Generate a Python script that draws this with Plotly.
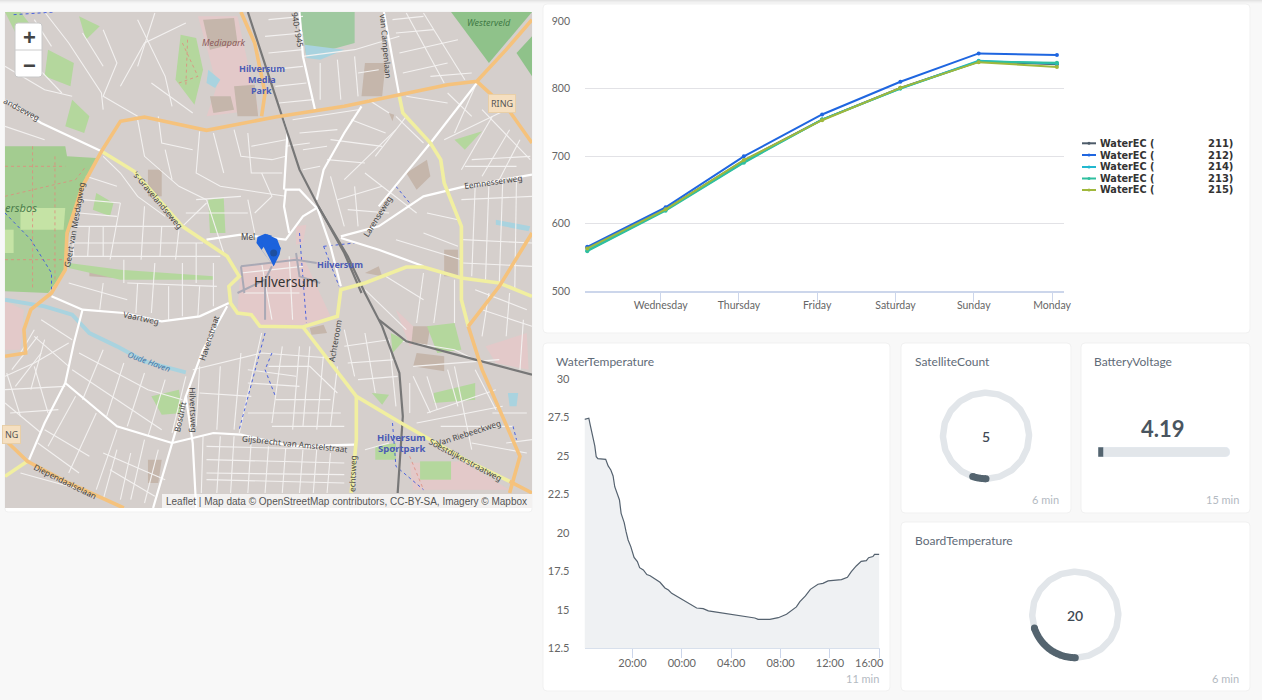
import numpy as np
import pandas as pd
import plotly.graph_objects as go

W, H = 1262, 700

# ---------- line chart data ----------
days = ["2020-06-02 01:30", "2020-06-03 01:30", "2020-06-04 01:30", "2020-06-05 01:30",
        "2020-06-06 01:30", "2020-06-07 01:30", "2020-06-08 01:30"]
ec_211 = [564, 621, 693, 754, 801, 840, 836]
ec_212 = [565.5, 624, 699.5, 761.5, 810, 852, 849.5]
ec_214 = [560, 620, 691, 754, 800, 841, 837]
ec_213 = [559, 619, 690, 754, 800, 840, 838]
ec_215 = [563, 621, 694, 753, 801, 839, 832]
week_ticks = ["2020-06-03", "2020-06-04", "2020-06-05", "2020-06-06", "2020-06-07", "2020-06-08"]
week_labels = ["Wednesday", "Thursday", "Friday", "Saturday", "Sunday", "Monday"]
ec_ids = ["211", "212", "214", "213", "215"]
ec_colors = ["#4d5b69", "#1f66e0", "#22b8cf", "#2fbf9f", "#a0b83c"]

# ---------- water temperature data ----------
temp_times = ["16:07", "16:28", "16:35", "16:47", "16:57", "17:04", "17:12", "17:50", "18:02", "18:15", "18:26",
              "18:34", "18:49", "18:57", "19:05", "19:20", "19:29", "19:39", "19:52", "20:08", "20:24", "20:35",
              "20:53", "21:10", "21:26", "21:50", "22:14", "22:38", "22:55", "23:11", "23:35", "00:07", "00:40",
              "01:12", "01:44", "02:09", "02:33", "03:13", "03:54", "04:43", "05:23", "05:55", "06:11", "07:08",
              "07:49", "08:29", "09:17", "09:34", "10:01", "10:25", "11:02", "11:26", "11:51", "12:23", "12:56",
              "13:25", "13:44", "14:08", "14:32", "14:57", "15:08", "15:29", "15:37", "16:00"]
temp_values = [27.38, 27.45, 27.01, 26.25, 25.65, 24.95, 24.82, 24.78, 24.35, 24.09, 23.7,
               23.0, 22.46, 22.14, 21.27, 20.67, 20.08, 19.54, 19.11, 18.41, 18.13, 17.74,
               17.59, 17.29, 17.22, 17.03, 16.79, 16.42, 16.29, 16.07, 15.88, 15.6, 15.32,
               15.12, 15.08, 14.93, 14.88, 14.8, 14.67, 14.62, 14.51, 14.47, 14.38, 14.38,
               14.49, 14.71, 15.19, 15.53, 15.9, 16.33, 16.66, 16.72, 16.88, 16.94, 16.96,
               17.11, 17.48, 17.85, 18.15, 18.2, 18.39, 18.46, 18.61, 18.61]
temp_ticks = ["2020-06-07 20:00", "2020-06-08 00:00", "2020-06-08 04:00", "2020-06-08 08:00",
              "2020-06-08 12:00", "2020-06-08 16:00"]
temp_tick_labels = ["20:00", "00:00", "04:00", "08:00", "12:00", ""]
last_temp_label = "16:00"

# ---------- gauges ----------
satellite_count = 5
board_temperature = 20
battery_voltage = 4.19

# ---------- map features, in map units ----------
forest = [(15, 440), (190, 440), (195, 470), (280, 475), (240, 570), (195, 720), (190, 810), (140, 880), (15, 875)]
forest_light = [[(60, 625), (190, 625), (185, 690), (60, 690)], [(15, 690), (40, 690), (40, 760), (15, 760)]]
westerveld = [(1310, 37), (1545, 37), (1420, 190)]
west_right = [(1545, 110), (1500, 160), (1545, 230)]
sportfield = [(870, 37), (1030, 37), (1030, 130), (890, 170)]
greens = [
    [(525, 105), (570, 115), (590, 210), (565, 315), (510, 240)],
    [(15, 37), (60, 37), (100, 90), (60, 130)],
    [(140, 150), (215, 190), (205, 260), (130, 230)],
    [(230, 50), (290, 80), (250, 120)],
    [(210, 300), (260, 350), (245, 400), (190, 380)],
    [(280, 580), (330, 610), (320, 650), (270, 630)],
    [(605, 600), (650, 595), (655, 700), (610, 700)],
    [(440, 1190), (520, 1170), (530, 1240), (470, 1245)],
    [(1240, 980), (1320, 970), (1340, 1050), (1270, 1060)],
    [(1320, 420), (1400, 395), (1350, 450)],
    [(1260, 1180), (1380, 1150), (1380, 1200), (1260, 1210)],
    [(200, 790), (350, 810), (620, 830), (620, 840), (350, 840), (200, 805)],
    [(1090, 1340), (1150, 1330), (1150, 1380), (1090, 1380)],
    [(1220, 1385), (1310, 1385), (1310, 1440), (1220, 1440)],
    [(1135, 1000), (1175, 1020), (1140, 1060)],
    [(1080, 1180), (1130, 1185), (1110, 1215)],
]
pink = [[(700, 800), (880, 770), (960, 950), (880, 975), (760, 975), (690, 930)],
        [(860, 680), (890, 675), (880, 730), (860, 735)],
        [(575, 50), (690, 50), (750, 330), (600, 350), (630, 260), (600, 140)],
        [(1150, 930), (1200, 980), (1250, 1000), (1190, 1040)],
        [(1410, 1040), (1530, 1000), (1535, 1110), (1440, 1090)],
        [(15, 905), (70, 930), (60, 1050), (15, 1050)],
        [(1190, 1390), (1340, 1385), (1480, 1470), (1200, 1470)]]
buildings = [[(590, 60), (680, 55), (690, 130), (610, 150)],
             [(610, 290), (670, 290), (680, 330), (620, 340)],
             [(680, 260), (740, 255), (750, 350), (690, 350)],
             [(1060, 190), (1120, 190), (1110, 290), (1050, 290)],
             [(1180, 520), (1240, 480), (1250, 530), (1210, 570)],
             [(1290, 750), (1330, 750), (1330, 830), (1290, 830)],
             [(1200, 980), (1250, 980), (1240, 1040), (1195, 1030)],
             [(430, 510), (470, 510), (470, 590), (430, 590)],
             [(900, 985), (940, 975), (950, 1000), (905, 1005)],
             [(260, 810), (340, 815), (340, 835), (260, 830)],
             [(1210, 1060), (1290, 1070), (1290, 1115), (1200, 1100)],
             [(1060, 820), (1100, 800), (1110, 830)],
             [(1130, 340), (1145, 345), (1140, 365)],
             [(430, 1380), (470, 1380), (460, 1450), (430, 1450)]]
water = [(15, 900), (130, 920), (210, 945), (260, 1000), (340, 1040), (420, 1085), (540, 1118)]
ponds = [[(605, 210), (640, 240), (625, 265), (600, 250)], [(1440, 660), (1540, 680), (1535, 695), (1440, 675)],
         [(1475, 1180), (1505, 1180), (1500, 1220), (1480, 1220)], [(885, 135), (1000, 150), (930, 180), (890, 175)]]
orange_roads = [
    [(15, 1070), (75, 1060), (70, 990), (90, 930), (150, 880), (190, 810), (195, 700), (240, 560), (295, 455), (350, 365), (420, 352), (600, 392), (800, 352), (1000, 320), (1300, 255), (1385, 245), (1470, 150), (1545, 60)],
    [(1385, 245), (1480, 335), (1545, 430)],
    [(1360, 980), (1450, 860), (1545, 700)],
    [(1360, 980), (1400, 1110), (1510, 1370), (1480, 1480)],
    [(760, 350), (770, 280), (740, 130), (700, 37)],
    [(15, 1320), (80, 1385), (200, 1450), (360, 1525)],
    [(1480, 1445), (1545, 1480)],
]
yellow_roads = [
    [(295, 455), (390, 515), (530, 680), (660, 770), (695, 830), (665, 860), (670, 910), (690, 940), (730, 945), (755, 980), (880, 982), (980, 950), (990, 870), (1060, 850), (1180, 802), (1230, 802), (1340, 835), (1450, 850), (1545, 890)],
    [(1160, 290), (1170, 340), (1250, 430), (1280, 480), (1290, 550), (1340, 680), (1340, 900), (1360, 980)],
    [(880, 982), (1035, 1190), (1165, 1270), (1350, 1380), (1480, 1445)],
    [(1035, 1190), (1035, 1320), (1020, 1480)],
    [(15, 1430), (80, 1385)],
]
rail_roads = [
    [(720, 37), (820, 350), (870, 510), (930, 630), (1010, 770), (1060, 880), (1110, 980), (1160, 1120), (1170, 1250), (1155, 1480)],
    [(1100, 960), (1180, 1025), (1380, 1080), (1545, 1125)],
    [(925, 620), (1000, 760), (1050, 880)],
]
main_streets = [
    [(15, 300), (120, 370), (295, 455)],
    [(150, 890), (240, 930), (360, 940), (470, 965), (580, 950), (665, 910)],
    [(240, 930), (215, 1030), (190, 1150), (130, 1270), (85, 1380)],
    [(660, 920), (590, 1050), (540, 1190), (500, 1330), (445, 1525)],
    [(500, 1330), (620, 1300), (700, 1305), (850, 1340), (1030, 1335)],
    [(600, 720), (700, 705), (830, 720), (880, 650), (920, 625), (870, 570), (830, 570), (825, 620), (840, 700)],
    [(825, 570), (835, 400), (820, 350)],
    [(920, 620), (960, 740), (990, 860)],
    [(990, 710), (1100, 680), (1230, 590), (1350, 560), (1545, 525)],
    [(920, 600), (940, 510), (1000, 400), (1050, 320)],
    [(1100, 620), (1250, 430), (1385, 250)],
    [(870, 37), (880, 170), (915, 330)],
    [(1115, 37), (1160, 290)],
    [(190, 1150), (340, 1280), (500, 1330)],
    [(540, 1190), (560, 1330), (570, 1525)],
    [(990, 715), (1100, 750), (1230, 800)],
]
minor_streets = [
    [(880, 170), (1030, 150), (1160, 110)], [(15, 1130), (100, 1090), (200, 1030)], [(760, 1000), (700, 1280), (695, 1300)],
    [(1170, 1025), (1320, 1050), (1400, 1090)], [(300, 90), (340, 190), (300, 290), (400, 350)],
    [(130, 37), (200, 130), (295, 280), (300, 330)], [(560, 1110), (760, 1060), (960, 1075)],
    [(400, 360), (420, 470), (520, 560), (600, 600)], [(580, 395), (570, 520), (640, 560), (830, 590)],
    [(680, 390), (700, 470), (790, 480), (830, 470)], [(300, 470), (350, 520), (400, 590), (480, 650)],
    [(210, 680), (530, 680)], [(200, 730), (590, 730)], [(200, 770), (640, 770)], [(350, 610), (320, 780)],
    [(420, 620), (410, 780)], [(520, 690), (510, 780)], [(600, 610), (530, 680)], [(650, 760), (600, 600)],
    [(370, 850), (630, 860)], [(450, 790), (440, 940)], [(530, 790), (530, 950)], [(620, 790), (620, 920)],
    [(300, 850), (290, 930)], [(720, 600), (740, 700)], [(760, 520), (790, 590), (740, 640)],
    [(960, 420), (1110, 440)], [(950, 480), (1060, 490)], [(1000, 540), (1150, 390)], [(1150, 350), (1230, 430)],
    [(1060, 520), (1210, 640)], [(1240, 640), (1330, 660)], [(1230, 700), (1330, 740)], [(1150, 720), (1340, 780)],
    [(1380, 560), (1370, 830)], [(1420, 550), (1410, 840)], [(1460, 545), (1450, 850)], [(1500, 535), (1495, 870)],
    [(1340, 600), (1545, 590)], [(1345, 720), (1545, 730)], [(1345, 790), (1545, 800)], [(1370, 480), (1540, 470)],
    [(1290, 420), (1470, 330)], [(1400, 330), (1540, 480)], [(1180, 40), (1290, 250)], [(1230, 40), (1350, 240)],
    [(1160, 160), (1330, 120)], [(1170, 220), (1300, 190)], [(930, 190), (930, 300)], [(980, 180), (990, 300)],
    [(1030, 170), (1040, 290)], [(15, 1170), (190, 1160)], [(30, 1240), (170, 1230)], [(100, 990), (60, 1060)],
    [(120, 960), (210, 1020)], [(100, 1100), (140, 1240)], [(220, 1190), (140, 1340)], [(280, 1240), (200, 1420)],
    [(340, 1290), (280, 1470)], [(420, 1320), (380, 1500)], [(230, 1060), (430, 1170), (530, 1200)],
    [(210, 1110), (470, 1290)], [(580, 1100), (570, 1280)], [(640, 1100), (630, 1290)], [(700, 1060), (680, 1290)],
    [(580, 1180), (730, 1190)], [(780, 1100), (900, 1100), (980, 1180)], [(800, 1200), (960, 1200)],
    [(790, 1280), (1000, 1280)], [(870, 1040), (850, 1290)], [(940, 1060), (920, 1290)],
    [(600, 1380), (1000, 1390)], [(600, 1440), (1000, 1450)], [(680, 1310), (670, 1480)], [(780, 1340), (770, 1480)],
    [(880, 1350), (870, 1480)], [(960, 1360), (950, 1480)], [(1000, 990), (1030, 1130)], [(1060, 1000), (1090, 1180)],
    [(1130, 1020), (1150, 1220)], [(1200, 1100), (1450, 1080)], [(1240, 1240), (1440, 1170)], [(1200, 1130), (1250, 1240)],
    [(1320, 1100), (1370, 1350)], [(1430, 1240), (1530, 1240)], [(1470, 1330), (1545, 1320)], [(1060, 1350), (1130, 1330)],
    [(15, 1210), (120, 1300)], [(20, 1120), (60, 1250)], [(60, 1420), (270, 1480)], [(300, 1360), (480, 1440)],
    [(320, 1410), (450, 1490)], [(540, 70), (420, 130), (350, 260)], [(240, 100), (300, 200)], [(400, 60), (480, 230), (500, 320)],
    [(450, 40), (400, 200)], [(900, 430), (830, 440)], [(700, 820), (880, 800)], [(760, 790), (790, 960)],
    [(840, 770), (850, 960)], [(710, 880), (870, 880)],
    # denser residential fill
    [(15, 200), (130, 270), (210, 290)], [(60, 150), (180, 280)], [(100, 60), (150, 140)], [(15, 380), (130, 420)],
    [(440, 250), (560, 340)], [(460, 350), (470, 430), (560, 450)], [(480, 450), (500, 540)], [(620, 400), (650, 520)],
    [(720, 400), (730, 520), (820, 520)], [(730, 440), (830, 420)], [(570, 600), (700, 590)], [(540, 640), (720, 640)],
    [(240, 600), (350, 610)], [(230, 640), (340, 650)], [(250, 530), (340, 560)], [(210, 700), (215, 770)],
    [(260, 680), (255, 770)], [(300, 680), (300, 770)], [(470, 680), (465, 770)], [(570, 730), (570, 850)],
    [(360, 780), (360, 850)], [(400, 850), (395, 940)], [(490, 860), (490, 960)], [(580, 860), (575, 950)],
    [(200, 850), (370, 900)], [(100, 1010), (200, 1100)], [(35, 1110), (110, 1010)], [(45, 1160), (120, 1060)],
    [(130, 1020), (90, 1170)], [(300, 1050), (240, 1200)], [(360, 1090), (310, 1250)], [(420, 1120), (370, 1280)],
    [(480, 1140), (430, 1310)], [(540, 1130), (500, 1300)], [(130, 1290), (260, 1370)], [(110, 1330), (230, 1420)],
    [(340, 1350), (300, 1500)], [(380, 1360), (350, 1500)], [(460, 1350), (420, 1510)], [(590, 1310), (585, 1480)],
    [(640, 1310), (630, 1480)], [(730, 1320), (720, 1480)], [(830, 1345), (820, 1480)], [(920, 1350), (910, 1480)],
    [(600, 1340), (1000, 1350)], [(600, 1420), (1000, 1425)], [(720, 1110), (860, 1130)], [(720, 1150), (870, 1160)],
    [(720, 1240), (990, 1240)], [(820, 1040), (790, 1270)], [(900, 1040), (880, 1280)], [(980, 1100), (960, 1280)],
    [(1000, 1040), (1130, 1020)], [(1010, 1090), (1150, 1080)], [(1040, 1140), (1155, 1130)], [(1190, 1150), (1190, 1240)],
    [(1240, 1130), (1270, 1230)], [(1300, 1110), (1330, 1220)], [(1380, 1110), (1440, 1230)], [(1210, 1270), (1460, 1220)],
    [(1280, 1280), (1490, 1280)], [(1370, 1330), (1530, 1360)], [(1420, 880), (1400, 1010)], [(1380, 870), (1530, 930)],
    [(1400, 930), (1545, 980)], [(1520, 960), (1510, 1110)], [(1480, 880), (1470, 1010)], [(1230, 820), (1210, 970)],
    [(1280, 820), (1260, 970)], [(1320, 840), (1320, 970)], [(1060, 870), (1180, 990)], [(1120, 830), (1230, 900)],
    [(1010, 630), (1130, 640)], [(980, 600), (1110, 560)], [(1030, 560), (1040, 680)], [(960, 530), (1000, 680)],
    [(1070, 300), (1130, 340)], [(1020, 360), (1120, 400)], [(1180, 350), (1090, 470)], [(1250, 230), (1370, 220)],
    [(1180, 290), (1300, 310)], [(1300, 280), (1370, 350)], [(1380, 260), (1320, 400)], [(1430, 350), (1340, 510)],
    [(1480, 390), (1400, 530)], [(1510, 420), (1450, 540)], [(1350, 500), (1500, 500)], [(1140, 60), (1230, 50)],
    [(1150, 100), (1260, 90)], [(1040, 220), (1100, 210)], [(780, 60), (880, 50)], [(770, 110), (880, 100)],
    [(780, 160), (880, 150)], [(790, 210), (880, 200)], [(800, 260), (890, 250)], [(810, 310), (910, 300)],
    [(850, 360), (1040, 330)], [(870, 400), (980, 390)], [(880, 450), (950, 440)], [(880, 510), (930, 500)],
]
ped_streets = [[(700, 800), (860, 780), (920, 790)], [(690, 880), (770, 840), (770, 960)], [(790, 800), (770, 840)],
               [(700, 800), (710, 880)], [(860, 760), (870, 830), (930, 850)]]
red_paths = [[(530, 130), (575, 230), (520, 250)], [(545, 120), (540, 260)], [(15, 500), (190, 500)], [(15, 590), (220, 540), (250, 500)],
             [(95, 440), (95, 870)], [(15, 780), (190, 780)], [(160, 470), (160, 840)], [(1190, 1370), (1230, 1470)]]
blue_paths = [[(15, 640), (90, 720), (150, 820), (150, 880)], [(40, 45), (160, 37)], [(870, 700), (890, 970)], [(940, 740), (1030, 730)],
              [(940, 740), (985, 860)], [(1150, 560), (1190, 610)], [(790, 1060), (770, 1110), (800, 1190)],
              [(770, 1000), (695, 1290)], [(1140, 1270), (1150, 1400), (1230, 1470)], [(1490, 1280), (1500, 1320)]]
pin_shapes = [[(795, 800), (745, 730), (748, 712), (770, 702), (790, 708), (760, 750)],
              [(795, 800), (760, 730), (775, 704), (805, 718), (815, 745)],
              [(795, 800), (775, 745), (795, 730), (816, 745), (812, 765)]]
pin_dot = [(795, 760)]
map_labels = [
    ("Mediapark", 650, 128, 0, 9, "#8c5a5a", "italic", "normal"),
    ("Hilversum", 760, 208, 0, 9, "#4b5bb5", "normal", "bold"),
    ("Media", 760, 240, 0, 9, "#4b5bb5", "normal", "bold"),
    ("Park", 760, 272, 0, 9, "#4b5bb5", "normal", "bold"),
    ("Westerveld", 1420, 68, 0, 9, "#3f7a45", "italic", "normal"),
    ("ersbos", 62, 622, 0, 11, "#4c7d4c", "italic", "normal"),
    ("andseweg", 62, 328, 28, 8.2, "#444444", "normal", "normal"),
    ("'s-Gravelandseweg", 458, 600, 50, 8.2, "#444444", "normal", "normal"),
    ("Geert van Mesdagweg", 216, 675, -80, 8.2, "#444444", "normal", "normal"),
    ("Eemnesserweg", 1432, 546, -8, 8.2, "#444444", "normal", "normal"),
    ("Larenseweg", 1095, 650, -58, 8.2, "#444444", "normal", "normal"),
    ("Hilversum", 832, 846, 0, 13.5, "#333333", "normal", "normal"),
    ("Mel", 720, 710, 0, 8.2, "#444444", "normal", "normal"),
    ("Hilversum", 988, 794, 0, 9, "#4b5bb5", "normal", "bold"),
    ("Vaartweg", 410, 953, 12, 8.2, "#444444", "normal", "normal"),
    ("Havenstraat", 605, 1015, -72, 8.2, "#444444", "normal", "normal"),
    ("Oude Haven", 435, 1085, 20, 8.2, "#4a78a8", "italic", "normal"),
    ("Achteroom", 972, 1022, -80, 8.2, "#444444", "normal", "normal"),
    ("Bosdrift", 522, 1250, -78, 8.2, "#444444", "normal", "normal"),
    ("Hilvertsweg", 562, 1230, 88, 8.2, "#444444", "normal", "normal"),
    ("Gijsbrecht van Amstelstraat", 858, 1330, 6, 8.2, "#444444", "normal", "normal"),
    ("Van Riebeeckweg", 1362, 1298, -18, 8.2, "#444444", "normal", "normal"),
    ("Soestdijkerstraatweg", 1352, 1380, 28, 8.2, "#444444", "normal", "normal"),
    ("Hilversum", 1165, 1313, 0, 9.5, "#4b5bb5", "normal", "bold"),
    ("Sportpark", 1165, 1345, 0, 9.5, "#4b5bb5", "normal", "bold"),
    ("echtsweg", 1022, 1420, -88, 8.2, "#444444", "normal", "normal"),
    ("Diependaalselaan", 192, 1445, 26, 8.2, "#444444", "normal", "normal"),
    ("940-1945", 865, 90, 80, 8.2, "#444444", "normal", "normal"),
    ("van Campenlaan", 1122, 140, 85, 8.2, "#444444", "normal", "normal"),
]
ring_labels = [("RING", 1458, 313), ("NG", 33, 1303)]


def xd(a, b):
    return [a / W, b / W]


def yd(a, b):
    return [1 - b / H, 1 - a / H]


def px(x):
    return x / W


def py(y):
    return 1 - y / H


def rrect(x0, y0, x1, y1, r, fill, line="rgba(0,0,0,0)", layer="below"):
    p = (f"M{px(x0 + r)},{py(y0)} L{px(x1 - r)},{py(y0)} Q{px(x1)},{py(y0)} {px(x1)},{py(y0 + r)} "
         f"L{px(x1)},{py(y1 - r)} Q{px(x1)},{py(y1)} {px(x1 - r)},{py(y1)} L{px(x0 + r)},{py(y1)} "
         f"Q{px(x0)},{py(y1)} {px(x0)},{py(y1 - r)} L{px(x0)},{py(y0 + r)} Q{px(x0)},{py(y0)} {px(x0 + r)},{py(y0)} Z")
    return dict(type="path", xref="paper", yref="paper", path=p, fillcolor=fill,
                line=dict(color=line, width=1), layer=layer)


def rect(x0, y0, x1, y1, fill, layer="below"):
    return dict(type="rect", xref="paper", yref="paper", x0=px(x0), x1=px(x1), y0=py(y1), y1=py(y0),
                fillcolor=fill, line=dict(width=0), layer=layer)


def text(s, x, y, size, color, anchor="left", family="Lato", weight="normal"):
    shift = {"left": -2, "right": 2, "center": 0}[anchor]
    return dict(text=s, xref="paper", yref="paper", x=px(x), y=py(y), xanchor=anchor, yanchor="middle", xshift=shift,
                showarrow=False, font=dict(size=size, color=color, family=family, weight=weight))


fig = go.Figure()
shapes = []
annos = []

# page and cards
shapes += [rect(0, 0, W, 1, "#e4e4e4"), rect(0, 1, W, 2, "#ececec"), rect(0, 2, W, 3, "#f2f2f2"), rect(0, 3, W, 4, "#f6f6f6")]
card_line = "#f1f1f1"
shapes += [rrect(5, 12, 532, 512, 3, "#ffffff", card_line),
           rrect(543, 4, 1250, 333, 4, "#ffffff", card_line),
           rrect(543, 343, 890, 691, 4, "#ffffff", card_line),
           rrect(901, 343, 1071, 513, 4, "#ffffff", card_line),
           rrect(1081, 343, 1250, 513, 4, "#ffffff", card_line),
           rrect(901, 522, 1250, 691, 4, "#ffffff", card_line)]
shapes.append(rect(5, 12, 532, 508, "#d5cfcc"))


# ---------- map ----------
def add_poly(pts, color, opacity=1.0):
    fig.add_trace(go.Scatter(x=[p[0] for p in pts] + [pts[0][0]], y=[p[1] for p in pts] + [pts[0][1]],
                             mode="lines", fill="toself", fillcolor=color, line=dict(width=0), opacity=opacity,
                             hoverinfo="skip", showlegend=False, xaxis="x3", yaxis="y3"))


def add_lines(lines, color, width, dash="solid"):
    xs, ys = [], []
    for ln in lines:
        xs += [p[0] for p in ln] + [None]
        ys += [p[1] for p in ln] + [None]
    fig.add_trace(go.Scatter(x=xs, y=ys, mode="lines", line=dict(color=color, width=width, dash=dash),
                             hoverinfo="skip", showlegend=False, xaxis="x3", yaxis="y3"))


for poly in pink:
    add_poly(poly, "#e3c9c9")
for poly in buildings:
    add_poly(poly, "#c5b6ab")
for poly in greens:
    add_poly(poly, "#b4d79d")
add_poly(forest, "#a3cc90")
for poly in forest_light:
    add_poly(poly, "#c5e3a5")
add_poly(westerveld, "#8fc28a")
add_poly(west_right, "#8fc28a")
add_poly(sportfield, "#9fc9a0")
for poly in ponds:
    add_poly(poly, "#a9d3df")
add_lines([water], "#a9d3df", 4)
add_lines(minor_streets, "#f3f1f0", 1.1)
add_lines(red_paths, "#e08a7c", 0.8, "dot")
add_lines(blue_paths, "#3a55e0", 0.9, "dot")
add_lines(ped_streets, "#a9a9b5", 2)
add_lines(main_streets, "#ffffff", 2.2)
add_lines(rail_roads, "#777777", 2.2)
add_lines(yellow_roads, "#f1efa0", 3.6)
add_lines(orange_roads, "#f5c27c", 3.6)
for poly in pin_shapes:
    add_poly(poly, "#1c62dc")
fig.add_trace(go.Scatter(x=[p[0] for p in pin_dot], y=[p[1] for p in pin_dot], mode="markers",
                         marker=dict(size=7, color="#1e4f9e"), hoverinfo="skip", showlegend=False,
                         xaxis="x3", yaxis="y3"))
for s, x, y, ang, size, color, style, wt in map_labels:
    annos.append(dict(text=s, xref="x3", yref="y3", x=x, y=y, textangle=ang, showarrow=False,
                      font=dict(size=size, color=color, family="Noto Sans", style=style, weight=wt)))
for s, x, y in ring_labels:
    annos.append(dict(text=s, xref="x3", yref="y3", x=x, y=y, showarrow=False, bgcolor="#f5dfc0",
                      bordercolor="#e8cfa8", borderwidth=1, borderpad=2,
                      font=dict(size=9, color="#555555", family="Noto Sans")))

# zoom control & attribution (above the map)
shapes += [rrect(15, 23, 42, 77, 3, "#ffffff", "#c8c8c8", "above"),
           dict(type="line", xref="paper", yref="paper", x0=px(15), x1=px(42), y0=py(50), y1=py(50),
                line=dict(color="#cccccc", width=1), layer="above"),
           rect(162, 494, 532, 508, "rgba(255,255,255,0.7)", "above")]
annos += [text("+", 29, 37.5, 22, "#444444", "center", "Liberation Sans", "bold"),
          text("−", 29, 65, 22, "#444444", "center", "Liberation Sans", "bold"),
          text("Leaflet | Map data © OpenStreetMap contributors, CC-BY-SA, Imagery © Mapbox", 527, 501, 10,
               "#555555", "right", "Liberation Sans")]

# ---------- WaterEC line chart ----------
ec_series = [ec_211, ec_212, ec_214, ec_213, ec_215]
for name, vals, col in zip(ec_ids, ec_series, ec_colors):
    fig.add_trace(go.Scatter(x=days, y=vals, mode="lines+markers", name=f"WaterEC ({name})",
                             line=dict(color=col, width=2), marker=dict(size=4, color=col),
                             showlegend=False, xaxis="x", yaxis="y"))
for i, (name, col) in enumerate(zip(ec_ids, ec_colors)):
    ly = [143.3, 155, 167, 178.5, 190][i]
    shapes.append(dict(type="line", xref="paper", yref="paper", x0=px(1082), x1=px(1096), y0=py(ly), y1=py(ly),
                       line=dict(color=col, width=2), layer="above"))
    shapes.append(dict(type="circle", xref="paper", yref="paper", x0=px(1087.5), x1=px(1090.5), y0=py(ly + 1.5),
                       y1=py(ly - 1.5), fillcolor=col, line=dict(width=0), layer="above"))
    annos.append(text("WaterEC (", 1100, ly, 9.7, "#333333", "left", "DejaVu Sans", "bold"))
    annos.append(text(name + ")", 1233, ly, 10, "#333333", "right", "DejaVu Sans", "bold"))

# ---------- water temperature ----------
temp_x = []
for t in temp_times:
    day = "2020-06-07" if int(t[:2]) >= 16 and len(temp_x) < 32 else "2020-06-08"
    temp_x.append(pd.Timestamp(f"{day} {t}"))
fig.add_trace(go.Scatter(x=temp_x, y=temp_values, mode="lines", fill="tozeroy", fillcolor="#eff1f3",
                         line=dict(color="#55626f", width=1.2), showlegend=False, name="WaterTemperature",
                         xaxis="x2", yaxis="y2"))


# ---------- gauges ----------
def gauge(value, xa, ya):
    t = np.radians(np.linspace(0, 360, 181))
    fig.add_trace(go.Scatter(x=-43 * np.sin(t), y=-43 * np.cos(t), mode="lines", line=dict(color="#e2e6ea", width=6.5),
                             hoverinfo="skip", showlegend=False, xaxis=xa, yaxis=ya))
    a = np.radians(np.linspace(0, value * 3.6, 80))
    fig.add_trace(go.Scatter(x=-43 * np.sin(a), y=-43 * np.cos(a), mode="lines", line=dict(color="#54646f", width=7, simplify=False),
                             showlegend=False, xaxis=xa, yaxis=ya))
    fig.add_trace(go.Scatter(x=[-43 * np.sin(a[0]), -43 * np.sin(a[-1])], y=[-43 * np.cos(a[0]), -43 * np.cos(a[-1])],
                             mode="markers", marker=dict(size=7, color="#54646f"), hoverinfo="skip",
                             showlegend=False, xaxis=xa, yaxis=ya))


gauge(satellite_count, "x4", "y4")
gauge(board_temperature, "x5", "y5")

fig.add_trace(go.Bar(x=[100], y=[0], orientation="h", marker=dict(color="#e2e6ea"), width=1, hoverinfo="skip",
                     showlegend=False, xaxis="x6", yaxis="y6"))
fig.add_trace(go.Bar(x=[battery_voltage], y=[0], orientation="h", marker=dict(color="#54646f"), width=1,
                     showlegend=False, xaxis="x6", yaxis="y6"))

card_text = "#5f6b78"
foot = "#b3bac2"
annos += [text("WaterTemperature", 556, 361, 12, card_text),
          text("SatelliteCount", 914.5, 361, 12, card_text),
          text("BatteryVoltage", 1094, 361, 12, card_text),
          text("BoardTemperature", 915, 540, 12, card_text),
          text("11 min", 879, 678, 11, foot, "right"),
          text("6 min", 1059, 499, 11, foot, "right"),
          text("15 min", 1239, 499, 11, foot, "right"),
          text("6 min", 1239, 678, 11, foot, "right"),
          text(last_temp_label, 869, 662.6, 11, "#666666", "center"),
          text(str(satellite_count), 985.5, 436, 14, "#3f4a55", "center", "Lato", 600),
          text(str(board_temperature), 1075, 615, 14, "#3f4a55", "center", "Lato", 600),
          text(str(battery_voltage), 1163, 428, 22, "#4a5560", "center", "Lato", 700)]

tick_font = dict(family="Lato", size=10.5, color="#666666")
hidden = dict(visible=False, fixedrange=True)


def gauge_axes(cx, cy, n):
    return (dict(domain=xd(cx - 50, cx + 50), range=[-50, 50], anchor=f"y{n}", **hidden),
            dict(domain=yd(cy - 50, cy + 50), range=[-50, 50], anchor=f"x{n}", **hidden))


x4, y4 = gauge_axes(986, 435.7, 4)
x5, y5 = gauge_axes(1075.3, 614.7, 5)

fig.update_layout(
    width=W, height=H, autosize=False, margin=dict(l=0, r=0, t=0, b=0, autoexpand=False),
    paper_bgcolor="#f8f8f8", plot_bgcolor="rgba(0,0,0,0)", barmode="overlay", barcornerradius=5,
    hovermode="closest", shapes=shapes, annotations=annos, showlegend=False,
    xaxis=dict(domain=xd(585, 1064), type="date", range=["2020-06-02 00:48", "2020-06-08 03:40"], anchor="y",
               tickmode="array", tickvals=week_ticks, ticktext=week_labels, showgrid=False, zeroline=False,
               showline=True, linecolor="#ccd6eb", linewidth=2, ticks="outside", ticklen=9, tickcolor="#ccd6eb",
               tickfont=tick_font, ticklabelstandoff=-6),
    yaxis=dict(domain=yd(21, 291), range=[500, 900], tickvals=[500, 600, 700, 800, 900], showgrid=True, anchor="x",
               gridcolor="#e2e2e6", gridwidth=1, zeroline=False, showline=False, ticks="", ticklabelstandoff=14,
               tickfont=tick_font),
    xaxis2=dict(domain=xd(584.5, 879.5), type="date", range=["2020-06-07 16:07", "2020-06-08 16:01"], anchor="y2",
                tickmode="array", tickvals=temp_ticks, ticktext=temp_tick_labels, showgrid=False, zeroline=False,
                showline=True, linecolor="#d8e0ec", linewidth=1, ticks="outside", ticklen=9, tickcolor="#ccd6eb",
                tickfont=dict(family="Lato", size=11, color="#666666"), ticklabelstandoff=-5),
    yaxis2=dict(domain=yd(379, 648.3), range=[12.5, 30], tickvals=[12.5, 15, 17.5, 20, 22.5, 25, 27.5, 30], anchor="x2",
                ticktext=["12.5", "15", "17.5", "20", "22.5", "25", "27.5", "30"], showgrid=False, zeroline=False,
                showline=False, ticks="", ticklabelstandoff=14, tickfont=dict(family="Lato", size=11, color="#666666")),
    xaxis3=dict(domain=xd(5, 532), range=[15, 1545], anchor="y3", **hidden),
    yaxis3=dict(domain=yd(12, 508), range=[1525, 37], anchor="x3", **hidden),
    xaxis4=x4, yaxis4=y4, xaxis5=x5, yaxis5=y5,
    xaxis6=dict(domain=xd(1098, 1230), range=[0, 100], anchor="y6", **hidden),
    yaxis6=dict(domain=yd(447, 457), range=[-0.5, 0.5], anchor="x6", **hidden),
)

fig.write_html("out.html", config=dict(displayModeBar=False),
               post_script="document.body.style.margin='0';document.body.style.overflow='hidden';")
